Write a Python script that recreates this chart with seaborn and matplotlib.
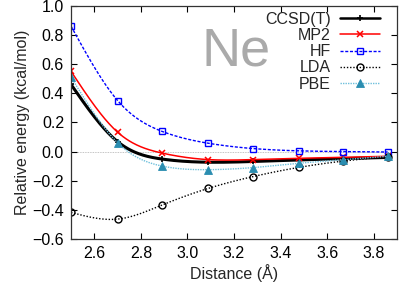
import numpy as np
import pandas as pd
import matplotlib
matplotlib.use("Agg")
import matplotlib.pyplot as plt
from matplotlib.lines import Line2D
import seaborn as sns

# distances (Angstrom) and relative energies (kcal/mol)
distance = [2.50, 2.70, 2.89, 3.09, 3.28, 3.48, 3.67, 3.86]
ccsdt = [0.46, 0.068, -0.051, -0.073, -0.068, -0.057, -0.049, -0.040]
mp2 = [0.55, 0.133, -0.010, -0.055, -0.055, -0.046, -0.040, -0.032]
hf = [0.86, 0.350, 0.139, 0.057, 0.021, 0.005, 0.000, -0.003]
lda = [-0.417, -0.463, -0.367, -0.252, -0.172, -0.108, -0.065, -0.035]
pbe = [0.51, 0.060, -0.099, -0.124, -0.110, -0.080, -0.056, -0.032]

labels = ["CCSD(T)", "MP2", "HF", "LDA", "PBE"]


def natural_spline(x, y, n=300):
    # gnuplot-like "smooth csplines" for drawing the line through the points
    x = np.asarray(x, float)
    y = np.asarray(y, float)
    m = len(x)
    h = np.diff(x)
    A = np.zeros((m, m))
    r = np.zeros(m)
    A[0, 0] = A[-1, -1] = 1
    for i in range(1, m - 1):
        A[i, i - 1] = h[i - 1]
        A[i, i] = 2 * (h[i - 1] + h[i])
        A[i, i + 1] = h[i]
        r[i] = 6 * ((y[i + 1] - y[i]) / h[i] - (y[i] - y[i - 1]) / h[i - 1])
    M = np.linalg.solve(A, r)
    xs = np.linspace(x[0], x[-1], n)
    k = np.clip(np.searchsorted(x, xs) - 1, 0, m - 2)
    t0 = x[k + 1] - xs
    t1 = xs - x[k]
    hk = h[k]
    ys = (M[k] * t0**3 + M[k + 1] * t1**3) / (6 * hk) \
        + (y[k] / hk - M[k] * hk / 6) * t0 + (y[k + 1] / hk - M[k + 1] * hk / 6) * t1
    return xs, ys


sns.set_theme(style="ticks")
plt.rcParams["font.family"] = ["Liberation Sans", "DejaVu Sans"]

fig, ax = plt.subplots(figsize=(3.99, 2.86), dpi=100)
fig.subplots_adjust(left=0.178, right=0.995, bottom=0.164, top=0.98)

ax.axhline(0, color="#b0b0b0", lw=0.6, ls=(0, (1, 1)), zorder=0)

styles = [
    (ccsdt, dict(color="black", lw=2.2, ls="-"), dict(marker="+", ms=5, mew=1.2, mfc="black", mec="black")),
    (mp2, dict(color="#ff0000", lw=1.1, ls="-"), dict(marker="x", ms=5, mew=1.1, mec="#ff0000")),
    (hf, dict(color="#0000ff", lw=1.0, ls=(0, (2.2, 1.2))), dict(marker="s", ms=5, mew=1.0, mfc="none", mec="#0000ff")),
    (lda, dict(color="black", lw=1.0, ls=(0, (1, 1.3))), dict(marker="o", ms=5, mew=1.0, mfc="none", mec="black")),
    (pbe, dict(color="#6fc0dc", lw=1.0, ls=(0, (1, 0.8))), dict(marker="^", ms=5.5, mew=0.6, mfc="#2a8db0", mec="#2a8db0")),
]

handles = []
for (vals, lstyle, mstyle), lab in zip(styles, labels):
    xs, ys = natural_spline(distance, vals)
    df = pd.DataFrame({"Distance": xs, "Energy": ys})
    sns.lineplot(data=df, x="Distance", y="Energy", ax=ax, color=lstyle["color"],
                 lw=lstyle["lw"], linestyle=lstyle["ls"], sort=False)
    ax.plot(distance, vals, ls="none", **mstyle)
    handles.append(Line2D([], [], color=lstyle["color"], lw=min(lstyle["lw"], 1.8),
                          linestyle=lstyle["ls"], **mstyle))

ax.set_xlim(2.5, 3.9)
ax.set_ylim(-0.6, 1.0)
ax.set_xticks(np.arange(2.6, 3.81, 0.2))
ax.set_yticks(np.arange(-0.6, 1.01, 0.2))
ax.set_xticklabels([f"{v:.1f}" for v in np.arange(2.6, 3.81, 0.2)])
ax.set_yticklabels([f"{v:.1f}".replace("-", "\u2212") for v in np.arange(-0.6, 1.01, 0.2)])
ax.tick_params(direction="in", top=True, right=True, length=4, width=0.8,
               labelsize=11.5, colors="black", pad=5)
for s in ax.spines.values():
    s.set_linewidth(0.9)
    s.set_color("#333333")

ax.set_xlabel("Distance (Å)", fontsize=11.5, labelpad=2)
ax.set_ylabel("Relative energy (kcal/mol)", fontsize=11.5, labelpad=2)

ax.text(0.40, 0.745, "Ne", transform=ax.transAxes, fontsize=39, color="#aaaaaa",
        ha="left", va="baseline")

ax.legend(handles, labels, loc="upper right", bbox_to_anchor=(0.948, 0.975),
          markerfirst=False, frameon=False, fontsize=11.5, handlelength=2.5,
          handletextpad=0.6, labelspacing=0.08, borderaxespad=0, borderpad=0,
          numpoints=1)

plt.savefig("out.png", dpi=100)
